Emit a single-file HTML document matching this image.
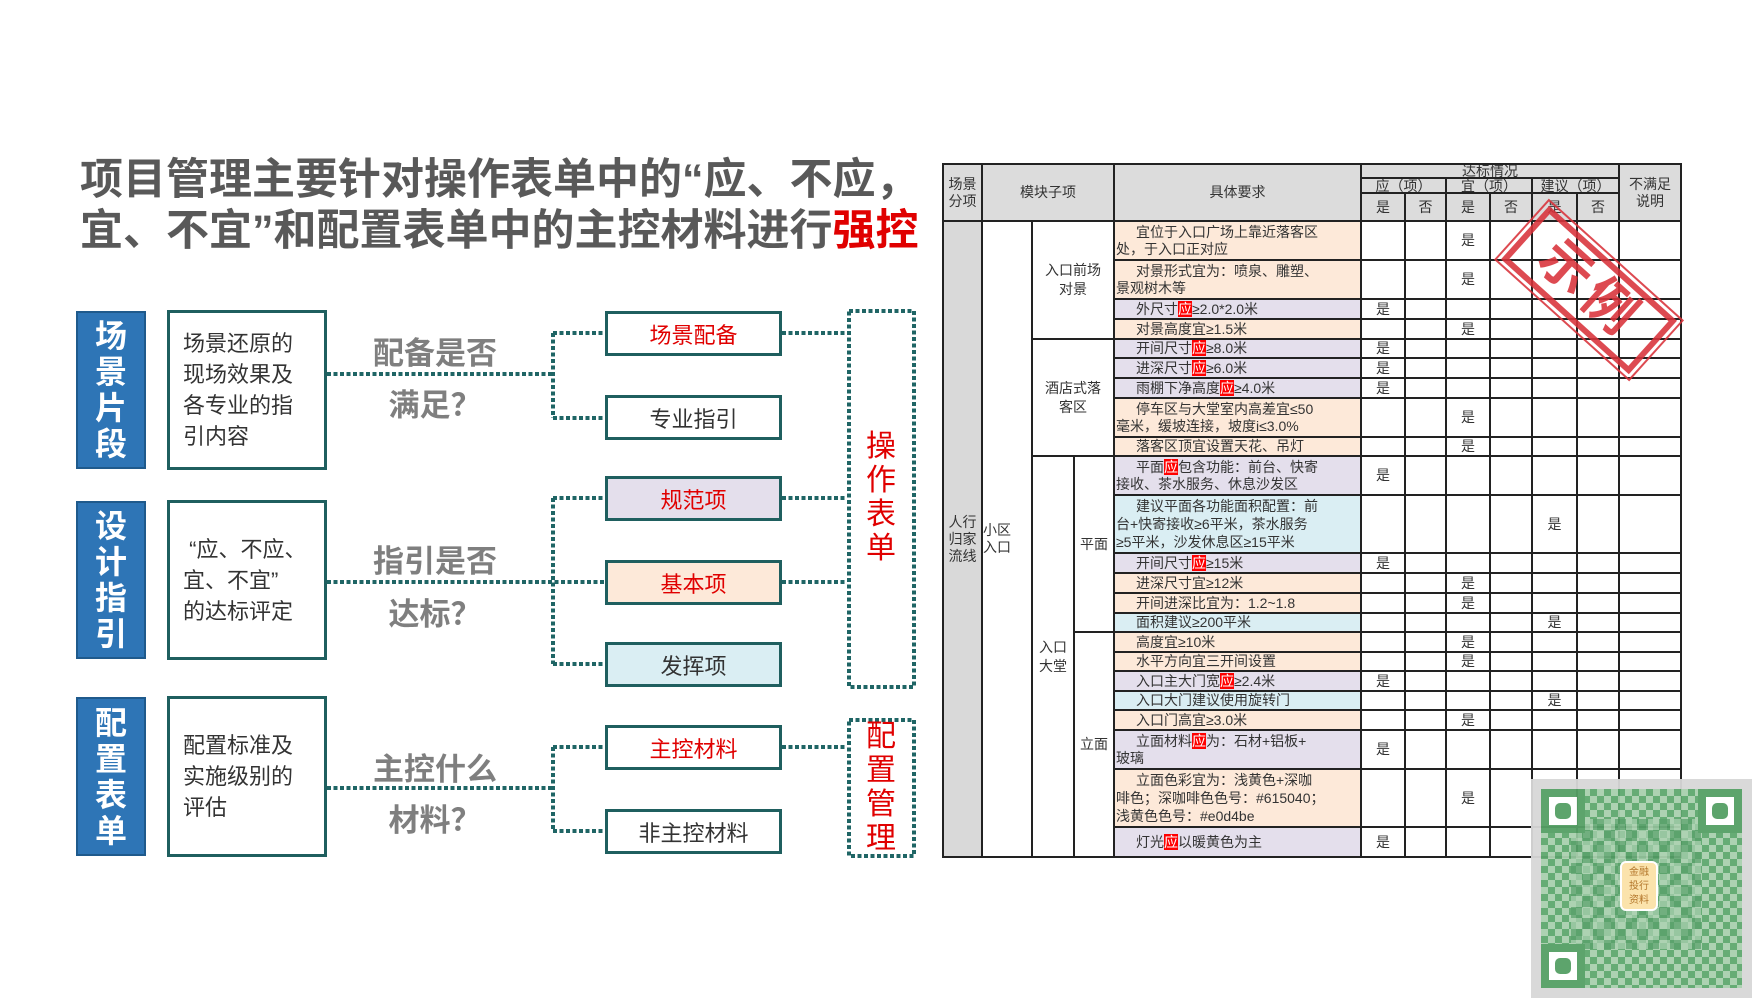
<!DOCTYPE html>
<html><head><meta charset="utf-8"><style>
*{margin:0;padding:0;box-sizing:border-box}
body{width:1755px;height:1005px;background:#fff;position:relative;overflow:hidden;font-family:"Liberation Sans","Noto Sans CJK SC",sans-serif;color:#333}
.a{position:absolute}
.title{left:80px;font-size:43px;font-weight:bold;color:#595959;white-space:nowrap;line-height:50px}
.blue{left:76px;width:70px;background:#2e75b6;border:2px solid #1f5a8c;color:#fff;font-weight:bold;font-size:32px;line-height:36px;text-align:center;display:flex;align-items:center;justify-content:center}
.wbox{left:167px;width:160px;border:3px solid #1f5f5f;font-size:22px;line-height:31px;padding-left:13px;display:flex;align-items:center;color:#333}
.q{font-size:31px;font-weight:bold;color:#7f7f7f;white-space:nowrap;width:140px;text-align:center;left:365px}
.rb{left:605px;width:177px;height:45px;border:3px solid #1f5f5f;font-size:22px;display:flex;align-items:center;justify-content:center;background:#fff}
.red{color:#e00000}
.vt{font-size:30px;color:#e00000;line-height:34px;text-align:center;width:66px;left:848px}
table{position:absolute;left:942px;top:163px;border-collapse:collapse;table-layout:fixed;font-size:14px;line-height:17px}
td{border:2px solid #222;padding:0;overflow:hidden;white-space:nowrap;text-align:center;vertical-align:middle}
td.t{text-align:left;padding-left:1px}
.h{background:#dcdcdc;font-size:14px}
.g{background:#d9d9d9}
.y{background:#e4dfec}.p{background:#fde9d9}.b{background:#daeef3}
.r{background:#f00;color:#fff}
.ind{padding-left:20px}
</style></head><body>
<div class="a title" style="top:155px">项目管理主要针对操作表单中的“应、不应，</div>
<div class="a title" style="top:206px">宜、不宜”和配置表单中的主控材料进行<span class="red">强控</span></div>

<div class="a blue" style="top:311px;height:158px">场<br>景<br>片<br>段</div>
<div class="a blue" style="top:501px;height:158px">设<br>计<br>指<br>引</div>
<div class="a blue" style="top:697px;height:159px">配<br>置<br>表<br>单</div>

<div class="a wbox" style="top:310px;height:160px">场景还原的<br>现场效果及<br>各专业的指<br>引内容</div>
<div class="a wbox" style="top:500px;height:160px">&nbsp;“应、不应、<br>宜、不宜”<br>的达标评定</div>
<div class="a wbox" style="top:696px;height:161px">配置标准及<br>实施级别的<br>评估</div>

<div class="a q" style="top:328px">配备是否</div>
<div class="a q" style="top:380px">满足？</div>
<div class="a q" style="top:536px">指引是否</div>
<div class="a q" style="top:589px">达标？</div>
<div class="a q" style="top:744px">主控什么</div>
<div class="a q" style="top:795px">材料？</div>

<svg class="a" style="left:0;top:0" width="1755" height="1005">
<g stroke="#1f6565" stroke-width="4" stroke-dasharray="4 2.5" fill="none">
<path d="M327 374H553M553 333V418M553 333H605M553 418H605M782 333H847"/>
<path d="M327 582H605M553 498V664M553 498H605M553 664H605M782 498H847M782 582H847"/>
<path d="M327 788H553M553 747V831M553 747H605M553 831H605M782 747H847"/>
<rect x="849" y="311" width="65" height="376"/>
<rect x="849" y="720" width="65" height="136"/>
</g></svg>

<div class="a rb red" style="top:311px">场景配备</div>
<div class="a rb" style="top:395px">专业指引</div>
<div class="a rb red" style="top:476px;background:#e4dfec">规范项</div>
<div class="a rb red" style="top:560px;background:#fde9d9">基本项</div>
<div class="a rb" style="top:642px;background:#daeef3">发挥项</div>
<div class="a rb red" style="top:725px">主控材料</div>
<div class="a rb" style="top:809px">非主控材料</div>

<div class="a vt" style="top:430px">操<br>作<br>表<br>单</div>
<div class="a vt" style="top:720px">配<br>置<br>管<br>理</div>

<table>
<colgroup><col style="width:39px"><col style="width:50px"><col style="width:42px"><col style="width:40px"><col style="width:247px"><col style="width:44px"><col style="width:41px"><col style="width:44px"><col style="width:42px"><col style="width:45px"><col style="width:42px"><col style="width:62px"></colgroup>
<tr style="height:14px"><td class="h" rowspan="3" style="line-height:17px">场景<br>分项</td><td class="h" colspan="3" rowspan="3">模块子项</td><td class="h" rowspan="3">具体要求</td><td class="h" colspan="6" style="line-height:12px">达标情况</td><td class="h" rowspan="3" style="line-height:17px">不满足<br>说明</td></tr>
<tr style="height:15px"><td class="h" colspan="2" style="line-height:12px">应（项）</td><td class="h" colspan="2" style="line-height:12px">宜（项）</td><td class="h" colspan="2" style="line-height:12px">建议（项）</td></tr>
<tr style="height:28px"><td class="h">是</td><td class="h">否</td><td class="h">是</td><td class="h">否</td><td class="h">是</td><td class="h">否</td></tr>

<tr style="height:39px"><td class="g" rowspan="23">人行<br>归家<br>流线</td><td rowspan="23" style="text-align:left">小区<br>入口</td><td colspan="2" rowspan="4" style="line-height:19px">入口前场<br>对景</td><td class="t p"><span class="ind"></span>宜位于入口广场上靠近落客区<br>处，于入口正对应</td><td></td><td></td><td>是</td><td></td><td></td><td></td><td></td></tr>
<tr style="height:39px"><td class="t p"><span class="ind"></span>对景形式宜为：喷泉、雕塑、<br>景观树木等</td><td></td><td></td><td>是</td><td></td><td></td><td></td><td></td></tr>
<tr style="height:20px"><td class="t y"><span class="ind"></span>外尺寸<span class="r">应</span>≥2.0*2.0米</td><td>是</td><td></td><td></td><td></td><td></td><td></td><td></td></tr>
<tr style="height:20px"><td class="t p"><span class="ind"></span>对景高度宜≥1.5米</td><td></td><td></td><td>是</td><td></td><td></td><td></td><td></td></tr>
<tr style="height:19px"><td colspan="2" rowspan="5" style="line-height:19px">酒店式落<br>客区</td><td class="t y"><span class="ind"></span>开间尺寸<span class="r">应</span>≥8.0米</td><td>是</td><td></td><td></td><td></td><td></td><td></td><td></td></tr>
<tr style="height:20px"><td class="t y"><span class="ind"></span>进深尺寸<span class="r">应</span>≥6.0米</td><td>是</td><td></td><td></td><td></td><td></td><td></td><td></td></tr>
<tr style="height:20px"><td class="t y"><span class="ind"></span>雨棚下净高度<span class="r">应</span>≥4.0米</td><td>是</td><td></td><td></td><td></td><td></td><td></td><td></td></tr>
<tr style="height:39px"><td class="t p"><span class="ind"></span>停车区与大堂室内高差宜≤50<br>毫米，缓坡连接，坡度i≤3.0%</td><td></td><td></td><td>是</td><td></td><td></td><td></td><td></td></tr>
<tr style="height:19px"><td class="t p"><span class="ind"></span>落客区顶宜设置天花、吊灯</td><td></td><td></td><td>是</td><td></td><td></td><td></td><td></td></tr>
<tr style="height:39px"><td rowspan="14" style="line-height:19px">入口<br>大堂</td><td rowspan="6">平面</td><td class="t y"><span class="ind"></span>平面<span class="r">应</span>包含功能：前台、快寄<br>接收、茶水服务、休息沙发区</td><td>是</td><td></td><td></td><td></td><td></td><td></td><td></td></tr>
<tr style="height:58px"><td class="t b" style="line-height:18px"><span class="ind"></span>建议平面各功能面积配置：前<br>台+快寄接收≥6平米，茶水服务<br>≥5平米，沙发休息区≥15平米</td><td></td><td></td><td></td><td></td><td>是</td><td></td><td></td></tr>
<tr style="height:20px"><td class="t y"><span class="ind"></span>开间尺寸<span class="r">应</span>≥15米</td><td>是</td><td></td><td></td><td></td><td></td><td></td><td></td></tr>
<tr style="height:20px"><td class="t p"><span class="ind"></span>进深尺寸宜≥12米</td><td></td><td></td><td>是</td><td></td><td></td><td></td><td></td></tr>
<tr style="height:20px"><td class="t p"><span class="ind"></span>开间进深比宜为：1.2~1.8</td><td></td><td></td><td>是</td><td></td><td></td><td></td><td></td></tr>
<tr style="height:19px"><td class="t b"><span class="ind"></span>面积建议≥200平米</td><td></td><td></td><td></td><td></td><td>是</td><td></td><td></td></tr>
<tr style="height:20px"><td rowspan="8">立面</td><td class="t p"><span class="ind"></span>高度宜≥10米</td><td></td><td></td><td>是</td><td></td><td></td><td></td><td></td></tr>
<tr style="height:19px"><td class="t p"><span class="ind"></span>水平方向宜三开间设置</td><td></td><td></td><td>是</td><td></td><td></td><td></td><td></td></tr>
<tr style="height:20px"><td class="t y"><span class="ind"></span>入口主大门宽<span class="r">应</span>≥2.4米</td><td>是</td><td></td><td></td><td></td><td></td><td></td><td></td></tr>
<tr style="height:19px"><td class="t b"><span class="ind"></span>入口大门建议使用旋转门</td><td></td><td></td><td></td><td></td><td>是</td><td></td><td></td></tr>
<tr style="height:20px"><td class="t p"><span class="ind"></span>入口门高宜≥3.0米</td><td></td><td></td><td>是</td><td></td><td></td><td></td><td></td></tr>
<tr style="height:39px"><td class="t y"><span class="ind"></span>立面材料<span class="r">应</span>为：石材+铝板+<br>玻璃</td><td>是</td><td></td><td></td><td></td><td></td><td></td><td></td></tr>
<tr style="height:58px"><td class="t p" style="line-height:18px"><span class="ind"></span>立面色彩宜为：浅黄色+深咖<br>啡色；深咖啡色色号：#615040；<br>浅黄色色号：#e0d4be</td><td></td><td></td><td>是</td><td></td><td></td><td></td><td></td></tr>
<tr style="height:30px"><td class="t y"><span class="ind"></span>灯光<span class="r">应</span>以暖黄色为主</td><td>是</td><td></td><td></td><td></td><td></td><td></td><td></td></tr>
</table>

<div class="a" style="left:1503px;top:254px;width:172px;height:72px;transform:rotate(42deg);border:6px solid #d9323a;outline:2px solid #d9323a;outline-offset:3px;color:#d9323a;font-size:52px;font-weight:bold;line-height:58px;text-align:center;opacity:.88;letter-spacing:6px">示例</div>

<div class="a" style="left:1531px;top:779px;width:221px;height:219px;background:#d8d8d8;opacity:.95">
 <div class="a" style="left:10px;top:10px;width:201px;height:199px;background:repeating-conic-gradient(#5ea86e 0 25%,#a9d0ae 0 50%) 0 0/14px 14px"></div>
 <div class="a" style="left:40px;top:40px;width:130px;height:130px;background:repeating-conic-gradient(#a9d0ae 0 25%,#4f9b62 0 50%) 0 0/22px 22px;opacity:.7"></div>
 <div class="a" style="left:10px;top:10px;width:44px;height:44px;border:8px solid #55a065;background:#fff"><div style="margin:6px;width:16px;height:16px;background:#55a065;border-radius:5px"></div></div>
 <div class="a" style="left:167px;top:10px;width:44px;height:44px;border:8px solid #55a065;background:#fff"><div style="margin:6px;width:16px;height:16px;background:#55a065;border-radius:5px"></div></div>
 <div class="a" style="left:10px;top:165px;width:44px;height:44px;border:8px solid #55a065;background:#fff"><div style="margin:6px;width:16px;height:16px;background:#55a065;border-radius:5px"></div></div>
 <div class="a" style="left:89px;top:82px;width:38px;height:50px;background:#fbe2a8;border:2px solid #fff;border-radius:6px;font-size:10px;line-height:14px;text-align:center;color:#b07020;padding-top:3px">金融<br>投行<br>资料</div>
</div>
</body></html>
